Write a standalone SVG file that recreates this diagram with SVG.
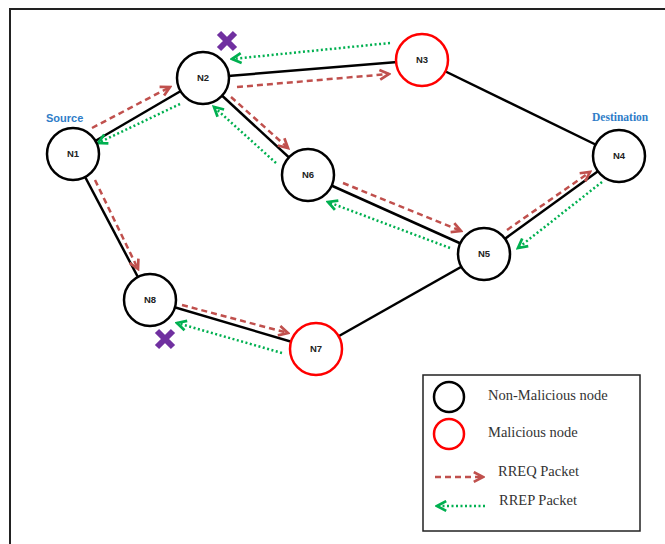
<svg xmlns="http://www.w3.org/2000/svg" width="665" height="544" viewBox="0 0 665 544">
<style>
.edge{stroke:#000;stroke-width:2.5;fill:none}
.node{fill:#fff;stroke:#000;stroke-width:2.5}
.mal{stroke:#ff0000}
.lbl{font-family:"Liberation Sans",Arial,sans-serif;font-size:9.5px;font-weight:bold;fill:#222;text-anchor:middle}
.rreq{stroke:#c0504d;stroke-width:2.5;stroke-dasharray:6 4;fill:none;marker-end:url(#ahR)}
.rrep{stroke:#00b050;stroke-width:2.5;stroke-dasharray:2 2.5;fill:none;marker-end:url(#ahG)}
.xm{stroke:#7030a0;stroke-width:6;stroke-linecap:butt}
.tag{font-family:"Liberation Sans",Arial,sans-serif;font-size:11px;font-weight:bold;fill:#2f7dc8}
.leg{font-family:"Liberation Serif","Times New Roman",serif;font-size:14.5px;fill:#333}
</style>
<defs>
<marker id="ahR" markerUnits="userSpaceOnUse" markerWidth="13" markerHeight="13" viewBox="0 0 12 12" refX="10" refY="6" orient="auto">
<path d="M1.5,1.5 L10,6 L1.5,10.5" fill="none" stroke="#c0504d" stroke-width="2.5"/>
</marker>
<marker id="ahG" markerUnits="userSpaceOnUse" markerWidth="13" markerHeight="13" viewBox="0 0 12 12" refX="10" refY="6" orient="auto">
<path d="M1.5,1.5 L10,6 L1.5,10.5" fill="none" stroke="#00b050" stroke-width="2.5"/>
</marker>
</defs>
<rect width="665" height="544" fill="#fff"/>
<path d="M10,544 V9 H665" fill="none" stroke="#222" stroke-width="2"/>
<g id="connectors">
<line class="edge" x1="73" y1="154" x2="203" y2="78"/>
<line class="edge" x1="203" y1="78" x2="422" y2="60"/>
<line class="edge" x1="422" y1="60" x2="619" y2="156"/>
<line class="edge" x1="203" y1="78" x2="308" y2="175"/>
<line class="edge" x1="308" y1="175" x2="484" y2="254"/>
<line class="edge" x1="619" y1="156" x2="484" y2="254"/>
<line class="edge" x1="484" y1="254" x2="316" y2="349"/>
<line class="edge" x1="316" y1="349" x2="150" y2="300"/>
<line class="edge" x1="150" y1="300" x2="73" y2="154"/>
</g>
<g id="packets">
<line class="rreq" x1="92" y1="128" x2="170" y2="87"/>
<line class="rrep" x1="180" y1="104" x2="98" y2="143"/>
<line class="rreq" x1="237" y1="87" x2="389" y2="74"/>
<line class="rrep" x1="390" y1="43" x2="232" y2="59"/>
<line class="rreq" x1="231" y1="97" x2="288" y2="148"/>
<line class="rrep" x1="276" y1="163" x2="214" y2="107"/>
<line class="rreq" x1="343" y1="183" x2="461" y2="231"/>
<line class="rrep" x1="450" y1="248" x2="328" y2="202"/>
<line class="rreq" x1="507" y1="230" x2="590" y2="172"/>
<line class="rrep" x1="602" y1="182" x2="518" y2="248"/>
<line class="rreq" x1="95" y1="180" x2="138" y2="269"/>
<line class="rreq" x1="182" y1="305" x2="288" y2="333"/>
<line class="rrep" x1="282" y1="353" x2="177" y2="323"/>
</g>
<g id="N1"><circle class="node" cx="73" cy="154" r="26"/><text class="lbl" x="73" y="157">N1</text></g>
<g id="N2"><circle class="node" cx="203" cy="78" r="26"/><text class="lbl" x="203" y="81">N2</text></g>
<g id="N3"><circle class="node mal" cx="422" cy="60" r="26"/><text class="lbl" x="422" y="63">N3</text></g>
<g id="N4"><circle class="node" cx="619" cy="156" r="26"/><text class="lbl" x="619" y="159">N4</text></g>
<g id="N5"><circle class="node" cx="484" cy="254" r="26"/><text class="lbl" x="484" y="257">N5</text></g>
<g id="N6"><circle class="node" cx="308" cy="175" r="26"/><text class="lbl" x="308" y="178">N6</text></g>
<g id="N7"><circle class="node mal" cx="316" cy="349" r="26"/><text class="lbl" x="316" y="352">N7</text></g>
<g id="N8"><circle class="node" cx="150" cy="300" r="26"/><text class="lbl" x="150" y="303">N8</text></g>
<g id="blocked">
<path class="xm" d="M219,33 L235,49 M235,33 L219,49"/>
<path class="xm" d="M157,331 L173,347 M173,331 L157,347"/>
</g>
<text class="tag" x="46" y="122">Source</text>
<text class="tag" x="592" y="121" style="font-family:'Liberation Serif','Times New Roman',serif;font-size:11.5px">Destination</text>
<g id="legend">
<rect x="423" y="375" width="217" height="156" fill="#fff" stroke="#222" stroke-width="1.5"/>
<circle cx="449" cy="397" r="15" fill="none" stroke="#000" stroke-width="2.5"/>
<circle cx="449" cy="434" r="15" fill="none" stroke="#ff0000" stroke-width="2.5"/>
<text class="leg" x="488" y="400">Non-Malicious node</text>
<text class="leg" x="488" y="437">Malicious node</text>
<line class="rreq" x1="435" y1="477" x2="483" y2="477"/>
<text class="leg" x="498" y="476">RREQ Packet</text>
<line class="rrep" x1="485" y1="506" x2="437" y2="506"/>
<text class="leg" x="499" y="505">RREP Packet</text>
</g>
</svg>
